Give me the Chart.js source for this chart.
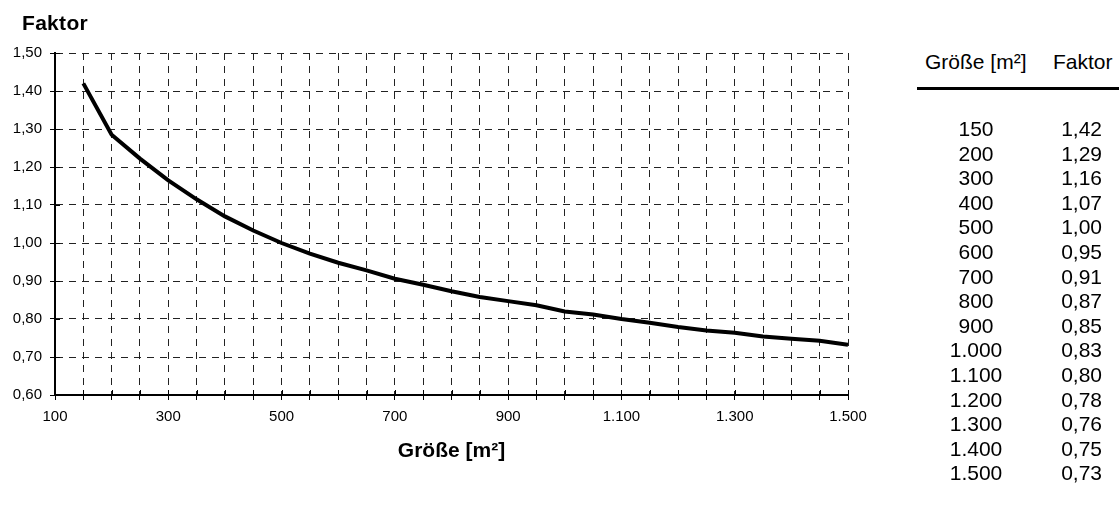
<!DOCTYPE html>
<html>
<head>
<meta charset="utf-8">
<script src="https://cdn.jsdelivr.net/npm/chart.js@4"></script>
<style>
  body { margin: 0; background: #fff; font-family: "Liberation Sans", Arial, sans-serif; }
  #wrap { position: absolute; left: 0; top: 0; width: 900px; height: 505px; }
  #ytitle { position: absolute; left: 22px; top: 12px; font: bold 21px/21px "Liberation Sans", Arial, sans-serif; color: #000; letter-spacing: 0.3px; }
  #table { position: absolute; left: 0; top: 0; }
  .cell { position: absolute; font: 21px/24px "Liberation Sans", Arial, sans-serif; color: #000; white-space: nowrap; }
  #rule { position: absolute; left: 917px; top: 87px; width: 202px; height: 3px; background: #000; }
</style>
</head>
<body>
<div id="wrap"><canvas id="chart"></canvas></div>
<div id="ytitle">Faktor</div>
<div id="table"></div>
<div id="rule"></div>
<script>
// curve values (every 50 m²)
const sizes = [150, 200, 250, 300, 350, 400, 450, 500, 550, 600, 650, 700, 750, 800,
               850, 900, 950, 1000, 1050, 1100, 1150, 1200, 1250, 1300, 1350, 1400, 1450, 1500];
const factors = [1.42, 1.285, 1.222, 1.165, 1.115, 1.07, 1.033, 1.0, 0.972, 0.948, 0.928, 0.906, 0.89, 0.873,
                 0.858, 0.847, 0.836, 0.82, 0.812, 0.80, 0.79, 0.779, 0.77, 0.764, 0.754, 0.748, 0.743, 0.732];

const xTickLabels = ['100', '300', '500', '700', '900', '1.100', '1.300', '1.500'];
const yTickLabels = ['0,60', '0,70', '0,80', '0,90', '1,00', '1,10', '1,20', '1,30', '1,40', '1,50'];

// table on the right
const tableSizes = ['150', '200', '300', '400', '500', '600', '700', '800', '900',
                    '1.000', '1.100', '1.200', '1.300', '1.400', '1.500'];
const tableFactors = ['1,42', '1,29', '1,16', '1,07', '1,00', '0,95', '0,91', '0,87', '0,85',
                      '0,83', '0,80', '0,78', '0,76', '0,75', '0,73'];

const table = document.getElementById('table');
function addCell(text, x, y, align) {
    const d = document.createElement('div');
    d.className = 'cell';
    d.textContent = text;
    d.style.top = y + 'px';
    if (align === 'center') {
        d.style.left = (x - 100) + 'px';
        d.style.width = '200px';
        d.style.textAlign = 'center';
    } else if (align === 'right') {
        d.style.left = (x - 200) + 'px';
        d.style.width = '200px';
        d.style.textAlign = 'right';
    } else {
        d.style.left = x + 'px';
    }
    table.appendChild(d);
}
addCell('Größe [m²]', 925, 50, 'left');
addCell('Faktor', 1053, 50, 'left');
tableSizes.forEach((s, i) => {
    const y = 117 + i * 24.6;
    addCell(s, 976, y, 'center');
    addCell(tableFactors[i], 1102, y, 'right');
});

// small solid marks crossing the axes
const crossTicks = {
    id: 'crossTicks',
    afterDraw(chart) {
        const ctx = chart.ctx;
        const x = chart.scales.x, y = chart.scales.y;
        const area = chart.chartArea;
        ctx.save();
        ctx.strokeStyle = '#000';
        ctx.lineWidth = 1;
        ctx.beginPath();
        x.ticks.forEach(t => {
            const px = Math.round(x.getPixelForValue(t.value)) + 0.5;
            ctx.moveTo(px, area.bottom);
            ctx.lineTo(px, area.bottom - 5);
        });
        y.ticks.forEach(t => {
            const py = Math.round(y.getPixelForValue(t.value)) + 0.5;
            ctx.moveTo(area.left, py);
            ctx.lineTo(area.left + 5, py);
        });
        ctx.stroke();
        ctx.restore();
    }
};

const tickFont = { family: '"Liberation Sans", Arial, sans-serif', size: 15 };

new Chart(document.getElementById('chart').getContext('2d'), {
    type: 'line',
    data: {
        datasets: [{
            data: sizes.map((s, i) => ({ x: s, y: factors[i] })),
            borderColor: '#000',
            borderWidth: 4,
            pointRadius: 0,
            tension: 0,
            fill: false
        }]
    },
    options: {
        responsive: true,
        maintainAspectRatio: false,
        animation: false,
        layout: { padding: { top: 53, right: 52, left: 0, bottom: 0 } },
        plugins: { legend: { display: false }, tooltip: { enabled: false } },
        scales: {
            x: {
                type: 'linear',
                min: 100,
                max: 1500,
                afterFit: scale => { scale.height = 110; },
                ticks: {
                    stepSize: 50,
                    autoSkip: false,
                    maxRotation: 0,
                    padding: 8,
                    color: '#000',
                    font: tickFont,
                    callback: value => ((value - 100) % 200 === 0) ? xTickLabels[(value - 100) / 200] : ''
                },
                grid: {
                    color: '#222',
                    lineWidth: 1,
                    tickLength: 5,
                    tickColor: '#000',
                    tickBorderDash: []
                },
                border: { display: true, color: '#000', width: 2, dash: [7, 6] },
                title: {
                    display: true,
                    text: 'Größe [m²]',
                    color: '#000',
                    font: { family: '"Liberation Sans", Arial, sans-serif', size: 21, weight: 'bold' },
                    padding: { top: 0, bottom: 41 }
                }
            },
            y: {
                min: 0.6,
                max: 1.5,
                afterFit: scale => { scale.width = 55; },
                ticks: {
                    stepSize: 0.1,
                    padding: 8,
                    color: '#000',
                    font: tickFont,
                    callback: (value, index) => yTickLabels[index]
                },
                grid: {
                    color: '#222',
                    lineWidth: 1,
                    tickLength: 5,
                    tickColor: '#000',
                    tickBorderDash: []
                },
                border: { display: true, color: '#000', width: 2, dash: [7, 6] }
            }
        }
    },
    plugins: [crossTicks]
});
</script>
</body>
</html>
